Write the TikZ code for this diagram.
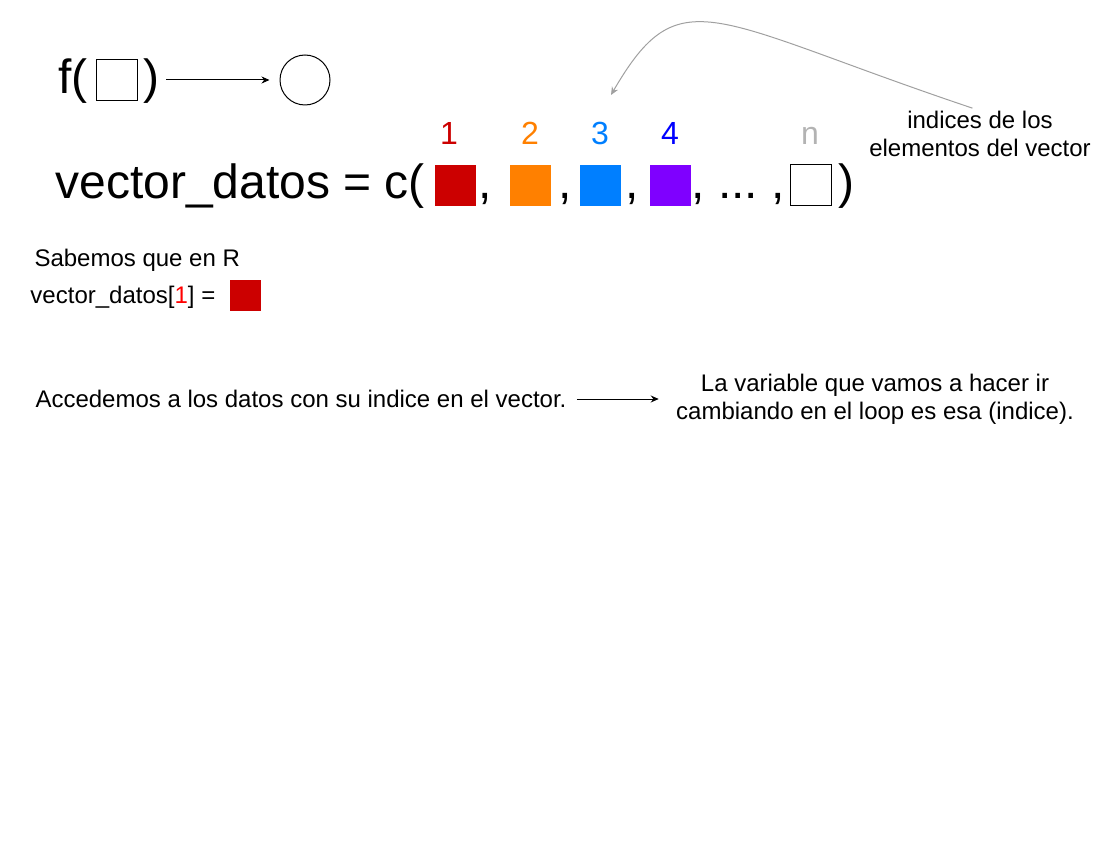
\documentclass[tikz,border=0pt]{standalone}
\usepackage{fontspec}
\setmainfont{Liberation Sans}
\usetikzlibrary{shapes,arrows,arrows.meta,positioning}
\definecolor{cellred}{RGB}{204,0,0}
\definecolor{cellorange}{RGB}{255,128,0}
\definecolor{cellblue}{RGB}{0,127,255}
\definecolor{cellpurple}{RGB}{127,0,255}
\definecolor{idxblue}{RGB}{0,0,255}
\definecolor{idxgrey}{RGB}{179,179,179}
\definecolor{curvegrey}{RGB}{160,160,160}

\tikzset{
  cell/.style={minimum size=41pt, inner sep=0pt},
  bigtext/.style={font=\fontsize{48}{54}\selectfont, inner sep=0pt, anchor=base},
  idx/.style={font=\fontsize{32}{36}\selectfont, inner sep=0pt, anchor=base},
  plain/.style={font=\fontsize{24}{28}\selectfont, inner sep=0pt, align=center},
  pointer/.style={-{Stealth[length=8pt,width=7pt]}}
}

\begin{document}
\begin{tikzpicture}[x=1pt,y=-1pt,line width=1pt]
    \useasboundingbox (0,0) rectangle (1100,850);

    % f( ) -> circle
    \node[bigtext, anchor=base west] (fopen) at (58,94) {f(};
    \node[cell, draw] (fbox) at (116.5,80.5) {};
    \node[bigtext] (fclose) at (151,94) {)};
    \node[circle, draw, minimum size=50pt, inner sep=0pt] (fout) at (305,80) {};
    \draw[pointer, shorten <=7pt, shorten >=10pt] (fclose.east |- fout) -- (fout);

    % the vector
    \node[bigtext, anchor=base west] (vname) at (55,199) {vector\_datos = c(};
    \node[cell, fill=cellred] (c1) at (455.5,185.5) {};
    \node[bigtext] (k1) at (485,199) {,};
    \node[cell, fill=cellorange] (c2) at (530.5,185.5) {};
    \node[bigtext] (k2) at (565,199) {,};
    \node[cell, fill=cellblue] (c3) at (600.5,185.5) {};
    \node[bigtext] (k3) at (632,199) {,};
    \node[cell, fill=cellpurple] (c4) at (670.5,185.5) {};
    \node[bigtext] (k4) at (698,199) {,};
    \node[bigtext] (dots) at (738,199) {...};
    \node[bigtext] (k5) at (778,199) {,};
    \node[cell, draw] (cn) at (810.5,185.5) {};
    \node[bigtext] (vclose) at (846,199) {)};

    % indices
    \node[idx, text=cellred] (i1) at (449,145) {1};
    \node[idx, text=cellorange] (i2) at (530,145) {2};
    \node[idx, text=cellblue] (i3) at (600,145) {3};
    \node[idx, text=idxblue] (i4) at (670,145) {4};
    \node[idx, text=idxgrey] (in) at (810,145) {n};

    % note on the indices
    \node[plain] (note) at (980,134) {indices de los\\elementos del vector};
    \coordinate (curveend) at (611,95);
    \draw[pointer, curvegrey, shorten <=8pt] (note.north) .. controls (710,20) and (680,-24) .. (curveend);

    % R example
    \node[plain, anchor=base west] (sabemos) at (34,267) {Sabemos que en R};
    \node[plain, anchor=base west] (ejemplo) at (30,303) {vector\_datos[{\color{red}1}] =};
    \node[minimum size=31pt, inner sep=0pt, fill=cellred] (ejcell) at (245.5,295.5) {};

    % access and loop
    \node[plain, anchor=base west] (access) at (35,407) {Accedemos a los datos con su indice en el vector.};
    \node[plain] (loopnote) at (875,399) {La variable que vamos a hacer ir\\cambiando en el loop es esa (indice).};
    \draw[pointer, shorten <=10pt, shorten >=17pt] (access.east |- loopnote) -- (loopnote);
\end{tikzpicture}
\end{document}
